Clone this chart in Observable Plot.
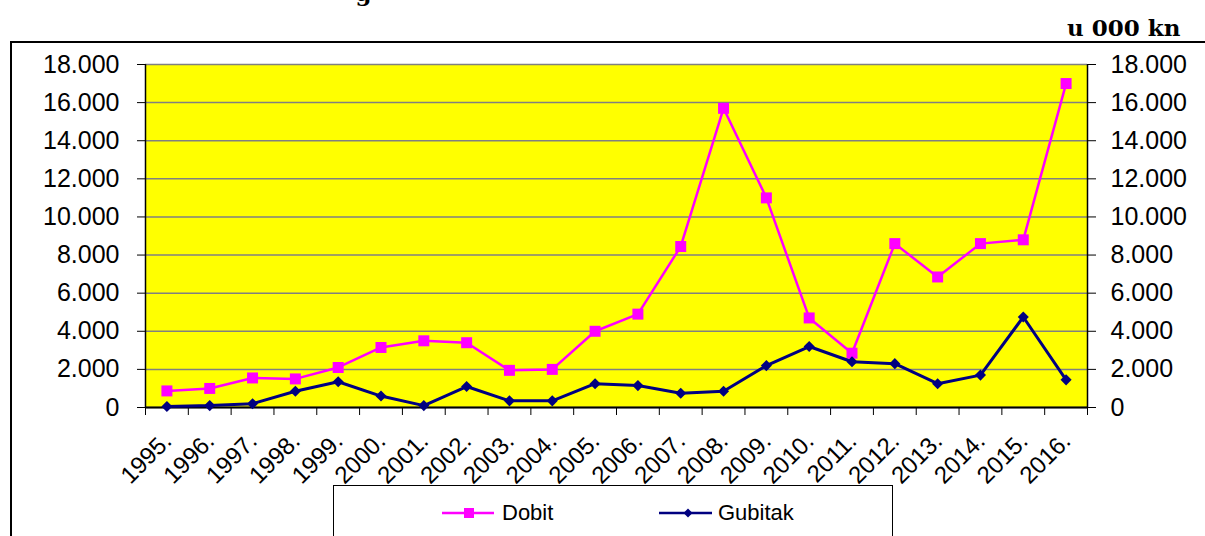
<!DOCTYPE html>
<html><head><meta charset="utf-8">
<script src="https://cdn.jsdelivr.net/npm/d3@7"></script>
<script src="https://cdn.jsdelivr.net/npm/@observablehq/plot@0.6"></script>
<style>
html,body{margin:0;padding:0;background:#fff;}
#wrap{position:relative;width:1205px;height:536px;overflow:hidden;font-family:"Liberation Sans",Arial,sans-serif;}
#border{position:absolute;left:10px;top:41px;width:1300px;height:600px;border-left:2px solid #000;border-top:2px solid #000;}
#chart{position:absolute;left:0;top:0;}
#legend{position:absolute;left:333px;top:485px;width:558px;height:100px;border:1.5px solid #000;background:#fff;}
</style></head><body>
<div id="wrap"><div id="border"></div><div id="chart"></div><div id="legend"></div></div>
<script>
const years = [1995,1996,1997,1998,1999,2000,2001,2002,2003,2004,2005,2006,2007,2008,2009,2010,2011,2012,2013,2014,2015,2016];
const dobit = [870,1000,1550,1500,2100,3150,3500,3400,1950,2000,4000,4900,8450,15700,11000,4700,2850,8600,6850,8600,8800,17000];
const gubitak = [50,100,200,850,1350,600,100,1100,350,350,1250,1150,750,850,2200,3200,2400,2300,1250,1700,4750,1450];
const yTicks = [0,2000,4000,6000,8000,10000,12000,14000,16000,18000];
const seriesNames = ["Dobit","Gubitak"];
const seriesColors = ["#ff00ff","#000080"];
const unitLabel = "u 000 kn";
const titleFragment = "g";

const fmt = d3.formatLocale({decimal:",", thousands:".", grouping:[3], currency:["",""]}).format(",d");
const rows = years.map((y,i)=>({year:y, dobit:dobit[i], gubitak:gubitak[i]}));
const edges = [years[0]-0.5, ...years.map(y=>y+0.5)];
const x0 = edges[0], x1 = edges[edges.length-1];

const plot = Plot.plot({
  width:1205, height:536,
  marginLeft:145, marginRight:118, marginTop:64, marginBottom:129,
  style:{background:"transparent", fontFamily:"Liberation Sans, Arial, sans-serif", color:"#000", overflow:"visible"},
  x:{domain:[x0, x1], axis:null},
  y:{domain:[0,18000], axis:null},
  marks:[
    Plot.frame({fill:"#ffff00", stroke:null}),
    Plot.gridY(yTicks, {stroke:"#808080", strokeOpacity:1, strokeWidth:1.5}),
    Plot.ruleX([x0, x1], {stroke:"#000", strokeWidth:1.5}),
    Plot.ruleY([0], {stroke:"#000", strokeWidth:2}),
    Plot.axisY(yTicks, {anchor:"left", tickSize:8, tickPadding:18, tickFormat:fmt, fontSize:25, label:null}),
    Plot.axisY(yTicks, {anchor:"right", tickSize:8, tickPadding:15, tickFormat:fmt, fontSize:25, label:null}),
    Plot.axisX(edges, {anchor:"bottom", tickSize:8, tickFormat:()=>"", label:null}),
    Plot.axisX(years, {anchor:"bottom", tickSize:0, tickPadding:0, tickRotate:-45, textAnchor:"end", lineAnchor:"bottom", dx:6, dy:35, tickFormat:d=>d+".", fontSize:24, label:null}),
    Plot.line(rows, {x:"year", y:"dobit", stroke:seriesColors[0], strokeWidth:2.5}),
    Plot.dot(rows, {x:"year", y:"dobit", symbol:"square", r:6.2, fill:seriesColors[0], stroke:null}),
    Plot.line(rows, {x:"year", y:"gubitak", stroke:seriesColors[1], strokeWidth:3}),
    Plot.dot(rows, {x:"year", y:"gubitak", symbol:"diamond2", r:5, fill:seriesColors[1], stroke:null}),
    Plot.text([unitLabel], {text:d=>d, frameAnchor:"top-right", dx:93, dy:-29, textAnchor:"end", lineAnchor:"bottom", fontFamily:"DejaVu Serif", fontWeight:"bold", fontSize:23, fill:"#000"}),
    Plot.text([titleFragment], {text:d=>d, frameAnchor:"top-left", dx:210, dy:-64, textAnchor:"start", lineAnchor:"bottom", fontFamily:"DejaVu Serif", fontWeight:"bold", fontSize:23, fill:"#000"})
  ]
});
document.getElementById("chart").appendChild(plot);

// legend
const lg = `<svg width="558" height="60" style="display:block;font-family:'Liberation Sans',Arial,sans-serif">
  <line x1="108" y1="27" x2="160" y2="27" stroke="${seriesColors[0]}" stroke-width="2.5"/>
  <rect x="130" y="22" width="10" height="10" fill="${seriesColors[0]}"/>
  <text x="168" y="34" font-size="22" fill="#000">${seriesNames[0]}</text>
  <line x1="325" y1="27" x2="378" y2="27" stroke="${seriesColors[1]}" stroke-width="2.5"/>
  <path d="M354,22.5L358.5,27L354,31.5L349.5,27Z" fill="${seriesColors[1]}"/>
  <text x="384" y="34" font-size="22" fill="#000">${seriesNames[1]}</text>
</svg>`;
document.getElementById("legend").innerHTML = lg;
</script>
</body></html>
